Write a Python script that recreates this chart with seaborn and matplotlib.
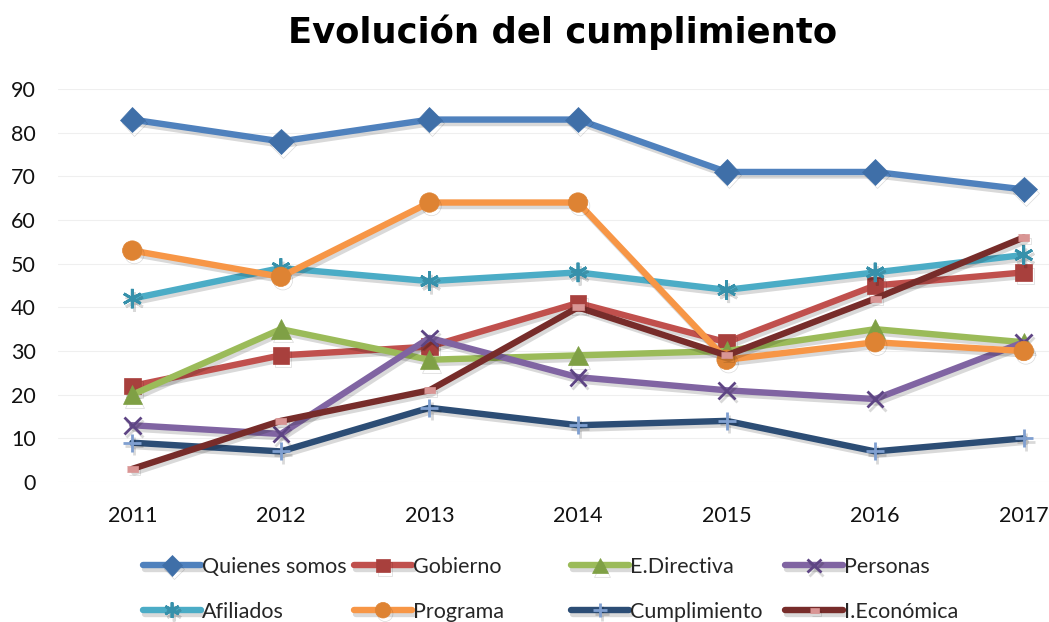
import pandas as pd
import matplotlib
matplotlib.use("Agg")
import matplotlib.pyplot as plt
import matplotlib.patheffects as pe
import seaborn as sns

years = [2011, 2012, 2013, 2014, 2015, 2016, 2017]
quienes_somos = [83, 78, 83, 83, 71, 71, 67]
gobierno = [22, 29, 31, 41, 32, 45, 48]
e_directiva = [20, 35, 28, 29, 30, 35, 32]
personas = [13, 11, 33, 24, 21, 19, 32]
afiliados = [42, 49, 46, 48, 44, 48, 52]
programa = [53, 47, 64, 64, 28, 32, 30]
cumplimiento = [9, 7, 17, 13, 14, 7, 10]
i_economica = [3, 14, 21, 40, 29, 42, 56]

series = [
    ("Quienes somos", quienes_somos, "#4F81BD", "D", "#3F6FA8", 13),
    ("Gobierno", gobierno, "#C0504D", "s", "#A8403D", 12),
    ("E.Directiva", e_directiva, "#9BBB59", "^", "#7FA045", 14),
    ("Personas", personas, "#8064A2", "x", "#5E4584", 12),
    ("Afiliados", afiliados, "#4BACC6", (6, 2, 0), "#3791AB", 14),
    ("Programa", programa, "#F79646", "o", "#DE8333", 14),
    ("Cumplimiento", cumplimiento, "#2C4D75", "+", "#7F9FD0", 13),
    ("I.Económica", i_economica, "#772C2A", [(-1, -0.55), (1, -0.55), (1, 0.55), (-1, 0.55)], "#D99594", 8),
]

sns.set_style("white")
plt.rcParams["font.family"] = ["Lato", "DejaVu Sans"]

fig = plt.figure(figsize=(10.49, 6.22), dpi=100)
ax = fig.add_axes([58 / 1049, 1 - 482 / 622, 1 - 58 / 1049, (482 - 89) / 622])

shadow = [pe.SimpleLineShadow(offset=(1.5, -2.5), shadow_color="black", alpha=0.15), pe.Normal()]

handles = []
for name, vals, color, marker, mcolor, ms in series:
    df = pd.DataFrame({"year": years, "value": vals})
    sns.lineplot(data=df, x="year", y="value", ax=ax, color=color, lw=4.6,
                 marker=marker, markersize=ms, mfc=mcolor, mec=mcolor,
                 mew=2 if marker in ("x", "+", (6, 2, 0)) else 0.5,
                 label=name, legend=False, path_effects=shadow,
                 solid_capstyle="round", solid_joinstyle="round")
    handles.append(ax.lines[-1])

ax.set_xlim(2010.5, 2017.17)
ax.set_ylim(0, 90)
ax.set_yticks(range(0, 91, 10))
ax.set_xticks(years)
ax.set_xlabel("")
ax.set_ylabel("")
ax.grid(axis="y", color="#EFEFEF", lw=0.8)
for s in ax.spines.values():
    s.set_visible(False)
ax.tick_params(axis="y", length=0, pad=16, labelsize=15.5)
ax.tick_params(axis="x", length=0, pad=17, labelsize=15.5)
for lbl in ax.get_xticklabels() + ax.get_yticklabels():
    lbl.set_color("#111111")

fig.text(0.536, 1 - 32 / 622, "Evolución del cumplimiento", ha="center", va="center",
         fontsize=25.5, fontweight="bold", color="black", family=["DejaVu Sans"])

col_x = [143, 354, 571, 785]
for c in range(4):
    hs = [handles[c], handles[c + 4]]
    leg = fig.legend(hs, [h.get_label() for h in hs], loc="upper left",
                     bbox_to_anchor=(col_x[c] / 1049, 1 - 557 / 622),
                     frameon=False, ncol=1, fontsize=15.5, handlelength=2.7,
                     handletextpad=0.05, borderaxespad=0, borderpad=0,
                     labelspacing=1.15, numpoints=1, markerscale=0.8)

fig.savefig("out.png", dpi=100)
